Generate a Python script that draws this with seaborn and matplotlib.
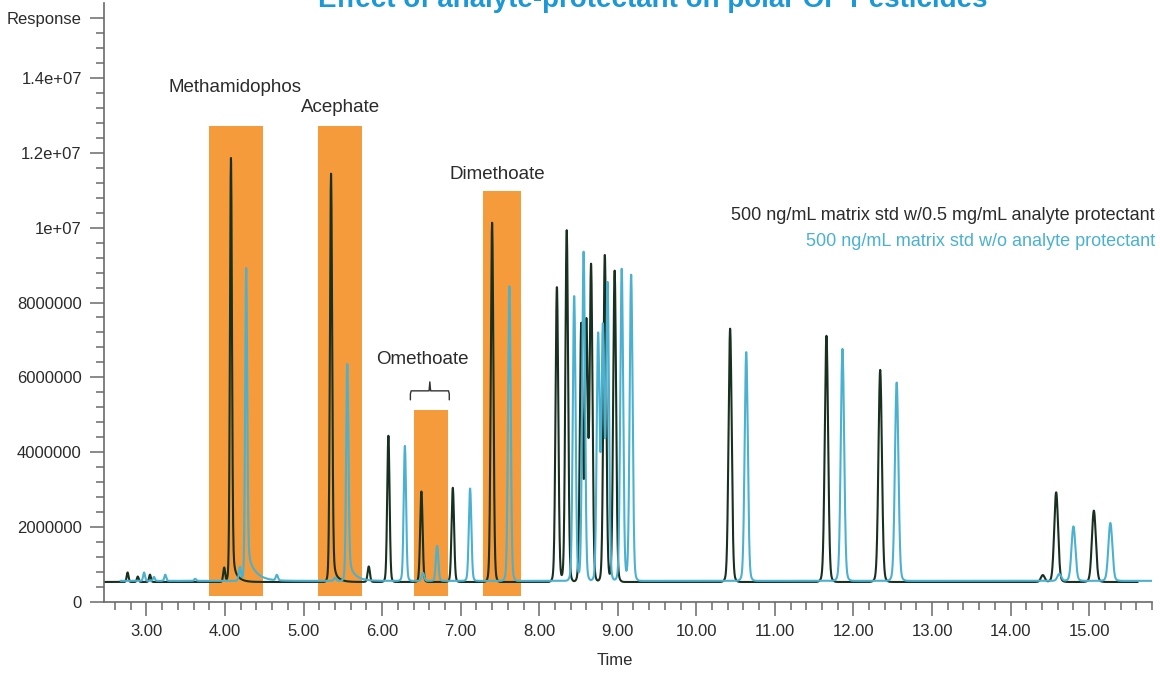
import numpy as np
import pandas as pd
import matplotlib
matplotlib.use("Agg")
import matplotlib.pyplot as plt
from matplotlib.patches import Rectangle
import seaborn as sns

# Peak tables: retention time (min) and apex response
with_ap_times = [2.76, 2.89, 3.045, 3.99, 4.076, 5.35, 5.83, 6.08, 6.50, 6.90,
                 7.40, 8.225, 8.35, 8.535, 8.60, 8.66, 8.835, 8.96,
                 10.43, 11.656, 12.34, 14.41, 14.58, 15.06]
with_ap_heights = [0.79e6, 0.68e6, 0.73e6, 0.92e6, 11.86e6, 11.44e6, 0.95e6, 4.44e6, 2.95e6, 3.05e6,
                   10.13e6, 8.42e6, 9.93e6, 7.40e6, 7.40e6, 8.94e6, 9.28e6, 8.85e6,
                   7.30e6, 7.11e6, 6.20e6, 0.72e6, 2.93e6, 2.44e6]

without_ap_times = [2.97, 3.096, 3.24, 3.62, 4.19, 4.27, 4.66, 5.40, 5.557, 6.29,
                    6.52, 6.70, 7.12, 7.62, 8.445, 8.565, 8.75, 8.81, 8.87, 9.05, 9.17,
                    10.635, 11.86, 12.55, 14.62, 14.80, 15.27]
without_ap_heights = [0.79e6, 0.67e6, 0.73e6, 0.62e6, 0.94e6, 8.92e6, 0.71e6, 0.65e6, 6.37e6, 4.17e6,
                      0.78e6, 1.50e6, 3.03e6, 8.43e6, 8.18e6, 9.37e6, 7.10e6, 7.23e6, 8.45e6, 8.90e6, 8.74e6,
                      6.68e6, 6.76e6, 5.86e6, 0.75e6, 2.02e6, 2.11e6]

# tailing peaks: retention time -> (tail fraction, tail decay in min)
with_ap_tails = {4.076: (0.06, 0.06), 5.35: (0.05, 0.06)}
without_ap_tails = {4.27: (0.10, 0.10), 5.557: (0.10, 0.08)}

with_ap_baseline = 535000
without_ap_baseline = 565000
with_ap_range = (2.46, 15.62)
without_ap_range = (2.67, 15.80)

# shaded compound windows
compounds = ["Methamidophos", "Acephate", "Omethoate", "Dimethoate"]
window_start = [3.80, 5.19, 6.40, 7.29]
window_end = [4.49, 5.74, 6.84, 7.77]
window_top = [12.72e6, 12.72e6, 5.14e6, 10.99e6]
window_bottom = 0.15e6

series_labels = ["500 ng/mL matrix std w/0.5 mg/mL analyte protectant",
                 "500 ng/mL matrix std w/o analyte protectant"]

y_ticks = [0, 2e6, 4e6, 6e6, 8e6, 1e7, 1.2e7, 1.4e7, 1.56e7]
y_tick_labels = ["0", "2000000", "4000000", "6000000", "8000000",
                 "1e+07", "1.2e+07", "1.4e+07", "Response"]
x_ticks = [3, 4, 5, 6, 7, 8, 9, 10, 11, 12, 13, 14, 15]
x_tick_labels = ["3.00", "4.00", "5.00", "6.00", "7.00", "8.00", "9.00",
                 "10.00", "11.00", "12.00", "13.00", "14.00", "15.00"]

title = "Effect of analyte-protectant on polar OP Pesticides"

DARK = "#17301f"
CYAN = "#4ab1d0"
ORANGE = "#f59b3b"
TEXT = "#2b2b2b"
AXIS = "#6a6a6a"


def build_trace(times, heights, tails, baseline, t_range, step=0.002):
    """Sum of peaks on a flat baseline; width grows with retention time."""
    t = np.arange(t_range[0], t_range[1], step)
    y = np.full_like(t, float(baseline))
    for t0, h in zip(times, heights):
        sigma = 0.008 + 0.0011 * t0
        core = np.exp(-0.5 * ((t - t0) / sigma) ** 2)
        skirt = np.exp(-0.5 * ((t - t0) / (2 * sigma)) ** 2)
        g = 0.95 * core + 0.05 * skirt
        if t0 in tails:
            frac, tau = tails[t0]
            after = t >= t0
            g[after] = (1 - frac) * g[after] + frac * np.exp(-(t[after] - t0) / tau)
        y += (h - baseline) * g
    return t, y


t1, y1 = build_trace(with_ap_times, with_ap_heights, with_ap_tails, with_ap_baseline, with_ap_range)
t2, y2 = build_trace(without_ap_times, without_ap_heights, without_ap_tails, without_ap_baseline, without_ap_range)
df = pd.concat([
    pd.DataFrame({"Time": t1, "Response": y1, "Sample": series_labels[0]}),
    pd.DataFrame({"Time": t2, "Response": y2, "Sample": series_labels[1]}),
])

sns.set_style("ticks")
plt.rcParams["font.family"] = ["Liberation Sans", "DejaVu Sans"]

fig = plt.figure(figsize=(11.6, 6.75), dpi=100)
ax = fig.add_axes([104 / 1160, 73 / 675, 1048 / 1160, 599 / 675])

# shaded windows behind the traces
for x0, x1, top in zip(window_start, window_end, window_top):
    ax.add_patch(Rectangle((x0, window_bottom), x1 - x0, top - window_bottom,
                           facecolor=ORANGE, edgecolor="none", zorder=0))

sns.lineplot(data=df, x="Time", y="Response", hue="Sample",
             palette=[DARK, CYAN], estimator=None, sort=False,
             linewidth=1.5, legend=False, ax=ax, zorder=2)

ax.set_xlim(2.46, 15.8)
ax.set_ylim(0, 1.6e7)

ax.set_xticks(x_ticks)
ax.set_xticklabels(x_tick_labels)
ax.set_xticks(np.arange(2.6, 15.81, 0.2), minor=True)
ax.set_yticks(y_ticks)
ax.set_yticklabels(y_tick_labels)
ax.set_yticks(np.arange(0, 1.57e7, 4e5), minor=True)

ax.tick_params(axis="both", which="major", length=10, width=1.1, color=AXIS,
               labelsize=12, labelcolor=TEXT, pad=6)
ax.tick_params(axis="both", which="minor", length=6, width=1.1, color=AXIS)

sns.despine(ax=ax)
for side in ["left", "bottom"]:
    ax.spines[side].set_color(AXIS)
    ax.spines[side].set_linewidth(1.2)

ax.set_ylabel("")
ax.set_xlabel("Time", fontsize=12, color=TEXT)
ax.xaxis.set_label_coords((615 - 104) / 1048, -0.085)

# compound labels
label_pos = [(4.13, 13.75e6), (5.465, 13.20e6), (6.51, 6.48e6), (7.465, 11.42e6)]
for name, (lx, ly) in zip(compounds, label_pos):
    ax.text(lx, ly, name, ha="center", va="center", fontsize=13.5, color=TEXT)

# brace above the Omethoate window
lo, hi, top = window_start[2] - 0.04, window_end[2] + 0.015, window_top[2]
mid = (lo + hi) / 2
yb, yh, yt = top + 0.26e6, top + 0.50e6, top + 0.74e6
bx = [lo, lo, lo + 0.01, mid - 0.01, mid, mid + 0.01, hi - 0.01, hi, hi]
by = [yb, yh - 0.08e6, yh, yh, yt, yh, yh, yh - 0.08e6, yb]
ax.plot(bx, by, color="#333333", linewidth=1.0, zorder=3)

# series legend as coloured text
fig.text(0.9957, 1 - 215 / 675, series_labels[0], ha="right", va="center",
         fontsize=13, color=TEXT)
fig.text(0.9957, 1 - 242 / 675, series_labels[1], ha="right", va="center",
         fontsize=13, color=CYAN)

# title sits partly above the canvas, as in the original
fig.text(0.563, 1 - 7 / 675, title, ha="center", va="baseline",
         fontsize=20, fontweight="bold", color="#1b98d5",
         family=["Liberation Sans Narrow", "Liberation Sans", "DejaVu Sans"])

fig.savefig("out.png", dpi=100)
